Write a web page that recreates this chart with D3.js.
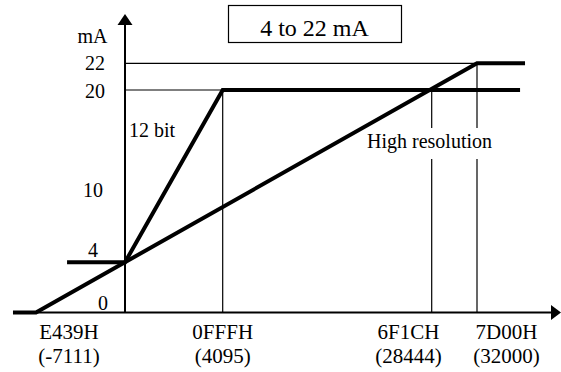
<!DOCTYPE html>
<html><head><meta charset="utf-8">
<script src="https://cdn.jsdelivr.net/npm/d3@7"></script>
<style>html,body{margin:0;padding:0;background:#fff;}svg{display:block;}</style>
</head><body>
<svg id="chart" width="561" height="372"></svg>
<script>
// ---- data ----
const codeBreaks = [-7111, 0, 4095, 28444, 32000];       // x-axis code values (schematic, non-linear axis)
const mABreaks = [0, 4, 20, 22];                          // y-axis values (schematic, non-linear axis)
const yTickValues = [0, 4, 10, 20, 22];
const yTickLabels = ["0", "4", "10", "20", "22"];
const xTickValues = [-7111, 4095, 28444, 32000];
const xTickHex = ["E439H", "0FFFH", "6F1CH", "7D00H"];
const xTickDec = ["(-7111)", "(4095)", "(28444)", "(32000)"];
const twelveBit = [[-4630, 4], [0, 4], [4095, 20], [35380, 20]];
const highRes = [[-8950, 0], [-7111, 0], [32000, 22], [35770, 22]];
const guideH = [[[0, 22], [32000, 22]], [[0, 20], [4095, 20]]];
const guideV = [[[4095, 20], [4095, 0]], [[28444, 20], [28444, 0]], [[32000, 22], [32000, 0]]];
const title = "4 to 22 mA";

// ---- layout ----
const svg = d3.select("#chart");
const x = d3.scaleLinear().domain(codeBreaks).range([36, 125, 222.7, 431.7, 477]);
const y = d3.scaleLinear().domain(mABreaks).range([312.5, 262.3, 90, 63.3]);
const font = "'Liberation Serif','Times New Roman',serif";
const line = d3.line().x(d => x(d[0])).y(d => y(d[1]));

// guide lines (thin)
guideH.concat(guideV).forEach(g => {
  svg.append("path").attr("d", line(g)).attr("fill", "none")
    .attr("stroke", "#000").attr("stroke-width", 1.2);
});

// axes
const x0 = x(0), yBase = y(0);
svg.append("line").attr("x1", x(-8950)).attr("x2", 552).attr("y1", yBase).attr("y2", yBase)
  .attr("stroke", "#000").attr("stroke-width", 2);
svg.append("path").attr("d", `M561,${yBase} L551,${yBase - 7.5} L551,${yBase + 7.5} Z`).attr("fill", "#000");
svg.append("line").attr("x1", x0).attr("x2", x0).attr("y1", yBase).attr("y2", 24)
  .attr("stroke", "#000").attr("stroke-width", 2);
svg.append("path").attr("d", `M${x0},14 L${x0 - 7.5},25 L${x0 + 7.5},25 Z`).attr("fill", "#000");

// "High resolution" label with white background breaking the guides
svg.append("rect").attr("x", 365).attr("y", 128).attr("width", 130).attr("height", 31).attr("fill", "#fff");
svg.append("text").attr("x", 367).attr("y", 148).attr("font-family", font).attr("font-size", 20)
  .text("High resolution");

// thick series lines
[twelveBit, highRes].forEach(s => {
  svg.append("path").attr("d", line(s)).attr("fill", "none")
    .attr("stroke", "#000").attr("stroke-width", 4).attr("stroke-linejoin", "miter");
});

// y tick labels
const yLabelOffsets = {0: [108, -3], 4: [98, -5], 10: [103, -1], 20: [105, 8], 22: [105, 7]};
yTickValues.forEach((v, i) => {
  const o = yLabelOffsets[v];
  svg.append("text").attr("x", o[0]).attr("y", y(v) + o[1]).attr("text-anchor", "end")
    .attr("font-family", font).attr("font-size", 20).text(yTickLabels[i]);
});
svg.append("text").attr("x", 92.5).attr("y", 43).attr("text-anchor", "middle")
  .attr("font-family", font).attr("font-size", 20).text("mA");

// x tick labels
const xLabelCenters = [69, 222.7, 408.5, 506.5];
xTickValues.forEach((v, i) => {
  svg.append("text").attr("x", xLabelCenters[i]).attr("y", 339).attr("text-anchor", "middle")
    .attr("font-family", font).attr("font-size", 21).text(xTickHex[i]);
  svg.append("text").attr("x", xLabelCenters[i]).attr("y", 363).attr("text-anchor", "middle")
    .attr("font-family", font).attr("font-size", 21).text(xTickDec[i]);
});

// 12 bit label
svg.append("text").attr("x", 129).attr("y", 137).attr("font-family", font).attr("font-size", 20).text("12 bit");

// title box
svg.append("rect").attr("x", 228.5).attr("y", 5.5).attr("width", 173).attr("height", 37)
  .attr("fill", "#fff").attr("stroke", "#000").attr("stroke-width", 1.2);
svg.append("text").attr("x", 314.5).attr("y", 36).attr("text-anchor", "middle")
  .attr("font-family", font).attr("font-size", 24).text(title);
</script>
</body></html>
